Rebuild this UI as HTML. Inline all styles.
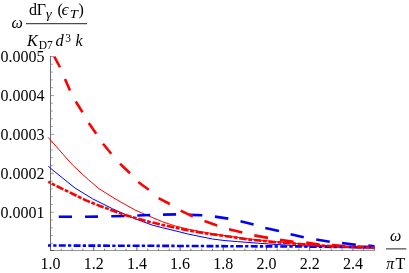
<!DOCTYPE html>
<html><head><meta charset="utf-8"><title>plot</title>
<style>
html,body{margin:0;padding:0;background:#fff;}
svg{display:block;font-family:"Liberation Serif",serif;will-change:transform;}
text{fill:#000;}
.i{font-style:italic;}
</style></head><body>

<svg width="409" height="273" viewBox="0 0 409 273">

<rect width="409" height="273" fill="#fff"/>

<g stroke="#6a6a6a" stroke-width="1" fill="none" shape-rendering="crispEdges">
<line x1="50.5" y1="56" x2="50.5" y2="251"/>
<line x1="51" y1="250.5" x2="375" y2="250.5" stroke="#959595"/>
</g>

<g stroke="#606060" stroke-width="0.6" fill="none">
<line x1="50" y1="250.5" x2="54" y2="250.5" stroke="#555" stroke-width="1"/>
<line x1="51" y1="243.40" x2="52.80" y2="243.40"/>
<line x1="51" y1="235.61" x2="52.80" y2="235.61"/>
<line x1="51" y1="227.83" x2="52.80" y2="227.83"/>
<line x1="51" y1="220.04" x2="52.80" y2="220.04"/>
<line x1="51" y1="212.25" x2="54.00" y2="212.25"/>
<line x1="51" y1="204.46" x2="52.80" y2="204.46"/>
<line x1="51" y1="196.67" x2="52.80" y2="196.67"/>
<line x1="51" y1="188.89" x2="52.80" y2="188.89"/>
<line x1="51" y1="181.10" x2="52.80" y2="181.10"/>
<line x1="51" y1="173.31" x2="54.00" y2="173.31"/>
<line x1="51" y1="165.52" x2="52.80" y2="165.52"/>
<line x1="51" y1="157.73" x2="52.80" y2="157.73"/>
<line x1="51" y1="149.95" x2="52.80" y2="149.95"/>
<line x1="51" y1="142.16" x2="52.80" y2="142.16"/>
<line x1="51" y1="134.37" x2="54.00" y2="134.37"/>
<line x1="51" y1="126.58" x2="52.80" y2="126.58"/>
<line x1="51" y1="118.79" x2="52.80" y2="118.79"/>
<line x1="51" y1="111.01" x2="52.80" y2="111.01"/>
<line x1="51" y1="103.22" x2="52.80" y2="103.22"/>
<line x1="51" y1="95.43" x2="54.00" y2="95.43"/>
<line x1="51" y1="87.64" x2="52.80" y2="87.64"/>
<line x1="51" y1="79.85" x2="52.80" y2="79.85"/>
<line x1="51" y1="72.07" x2="52.80" y2="72.07"/>
<line x1="51" y1="64.28" x2="52.80" y2="64.28"/>
<line x1="51" y1="56.49" x2="54.00" y2="56.49"/>
<line x1="61.30" y1="250.6" x2="61.30" y2="248.70" stroke="#5a5a5a" stroke-width="0.8"/>
<line x1="72.10" y1="250.6" x2="72.10" y2="248.70" stroke="#5a5a5a" stroke-width="0.8"/>
<line x1="82.90" y1="250.6" x2="82.90" y2="248.70" stroke="#5a5a5a" stroke-width="0.8"/>
<line x1="93.70" y1="250.6" x2="93.70" y2="247.00" stroke="#3a3a3a" stroke-width="0.8"/>
<line x1="104.50" y1="250.6" x2="104.50" y2="248.70" stroke="#5a5a5a" stroke-width="0.8"/>
<line x1="115.30" y1="250.6" x2="115.30" y2="248.70" stroke="#5a5a5a" stroke-width="0.8"/>
<line x1="126.10" y1="250.6" x2="126.10" y2="248.70" stroke="#5a5a5a" stroke-width="0.8"/>
<line x1="136.90" y1="250.6" x2="136.90" y2="247.00" stroke="#3a3a3a" stroke-width="0.8"/>
<line x1="147.70" y1="250.6" x2="147.70" y2="248.70" stroke="#5a5a5a" stroke-width="0.8"/>
<line x1="158.50" y1="250.6" x2="158.50" y2="248.70" stroke="#5a5a5a" stroke-width="0.8"/>
<line x1="169.30" y1="250.6" x2="169.30" y2="248.70" stroke="#5a5a5a" stroke-width="0.8"/>
<line x1="180.10" y1="250.6" x2="180.10" y2="247.00" stroke="#3a3a3a" stroke-width="0.8"/>
<line x1="190.90" y1="250.6" x2="190.90" y2="248.70" stroke="#5a5a5a" stroke-width="0.8"/>
<line x1="201.70" y1="250.6" x2="201.70" y2="248.70" stroke="#5a5a5a" stroke-width="0.8"/>
<line x1="212.50" y1="250.6" x2="212.50" y2="248.70" stroke="#5a5a5a" stroke-width="0.8"/>
<line x1="223.30" y1="250.6" x2="223.30" y2="247.00" stroke="#3a3a3a" stroke-width="0.8"/>
<line x1="234.10" y1="250.6" x2="234.10" y2="248.70" stroke="#5a5a5a" stroke-width="0.8"/>
<line x1="244.90" y1="250.6" x2="244.90" y2="248.70" stroke="#5a5a5a" stroke-width="0.8"/>
<line x1="255.70" y1="250.6" x2="255.70" y2="248.70" stroke="#5a5a5a" stroke-width="0.8"/>
<line x1="266.50" y1="250.6" x2="266.50" y2="247.00" stroke="#3a3a3a" stroke-width="0.8"/>
<line x1="277.30" y1="250.6" x2="277.30" y2="248.70" stroke="#5a5a5a" stroke-width="0.8"/>
<line x1="288.10" y1="250.6" x2="288.10" y2="248.70" stroke="#5a5a5a" stroke-width="0.8"/>
<line x1="298.90" y1="250.6" x2="298.90" y2="248.70" stroke="#5a5a5a" stroke-width="0.8"/>
<line x1="309.70" y1="250.6" x2="309.70" y2="247.00" stroke="#3a3a3a" stroke-width="0.8"/>
<line x1="320.50" y1="250.6" x2="320.50" y2="248.70" stroke="#5a5a5a" stroke-width="0.8"/>
<line x1="331.30" y1="250.6" x2="331.30" y2="248.70" stroke="#5a5a5a" stroke-width="0.8"/>
<line x1="342.10" y1="250.6" x2="342.10" y2="248.70" stroke="#5a5a5a" stroke-width="0.8"/>
<line x1="352.90" y1="250.6" x2="352.90" y2="247.00" stroke="#3a3a3a" stroke-width="0.8"/>
<line x1="363.70" y1="250.6" x2="363.70" y2="248.70" stroke="#5a5a5a" stroke-width="0.8"/>
<line x1="374.50" y1="250.6" x2="374.50" y2="248.70" stroke="#5a5a5a" stroke-width="0.8"/>
</g>

<g fill="none" stroke-linejoin="round">
<polyline points="48.30,137.50 50.50,140.00 72.50,165.00 88.75,180.00 98.75,188.50 115.00,198.75 135.00,210.00 152.00,217.40 162.50,221.75 175.00,225.90 187.50,229.00 200.00,231.50 225.00,235.60 250.00,239.00 275.00,241.70 300.00,243.80 325.00,245.50 350.00,246.70 374.50,247.40" stroke="#ff0000" stroke-width="1"/>
<polyline points="48.30,166.00 50.50,168.25 65.00,180.00 75.00,188.00 92.50,198.75 112.50,208.75 135.00,218.75 152.00,225.00 162.50,227.75 175.00,230.75 187.50,233.90 200.00,236.50 212.50,239.00 225.00,240.60 237.50,241.60 250.00,242.60 275.00,244.40 300.00,245.80 325.00,246.80 350.00,247.50 374.50,248.00" stroke="#0000ff" stroke-width="1"/>
<g stroke="#0000ff" stroke-width="2.6">
<line x1="58.75" y1="216.75" x2="72" y2="216.75"/>
<line x1="85" y1="216.75" x2="98" y2="216.6"/>
<line x1="111.25" y1="216.25" x2="124.5" y2="216"/>
<line x1="137.3" y1="215.5" x2="150.2" y2="215"/>
<line x1="163" y1="214.6" x2="176.1" y2="214.35"/>
<line x1="189" y1="214.9" x2="202.3" y2="215.3"/>
<line x1="214.9" y1="216.6" x2="228.3" y2="218.6"/>
<line x1="240.5" y1="221.2" x2="253.6" y2="224.5"/>
<line x1="265.3" y1="228" x2="279" y2="231.1"/>
<line x1="290.6" y1="234.25" x2="303.75" y2="237.25"/>
<line x1="316.25" y1="239.5" x2="329.75" y2="241.75"/>
<line x1="342.1" y1="243" x2="355.8" y2="244.85"/>
<line x1="368.2" y1="245.6" x2="374.4" y2="246.3"/>
</g>
<g stroke="#ff0000" stroke-width="2.6">
<line x1="54.3" y1="56.6" x2="60" y2="67.25"/>
<line x1="65" y1="79" x2="70" y2="90.5"/>
<line x1="75.75" y1="101.5" x2="82.5" y2="112.25"/>
<line x1="88.75" y1="123" x2="96.25" y2="133.75"/>
<line x1="103" y1="143.75" x2="111.25" y2="153.75"/>
<line x1="120" y1="163.75" x2="130" y2="173.25"/>
<line x1="138.25" y1="182" x2="148.75" y2="189.75"/>
<line x1="158.6" y1="198.1" x2="169.8" y2="204"/>
<line x1="180.6" y1="210.6" x2="192.8" y2="216.4"/>
<line x1="204.5" y1="221" x2="217.1" y2="225.5"/>
<line x1="229" y1="229.3" x2="242.3" y2="232.6"/>
<line x1="254.3" y1="235.4" x2="268" y2="237.9"/>
<line x1="280" y1="239.9" x2="293.5" y2="241.75"/>
<line x1="306.25" y1="242.6" x2="319.4" y2="244.5"/>
<line x1="331.9" y1="245.1" x2="345" y2="246"/>
<line x1="357.5" y1="246.5" x2="370.5" y2="246.9"/>
</g>
<polyline points="48.00,245.50 150.00,245.80 250.00,246.30 310.00,246.60 340.00,247.00 374.50,247.30" stroke="#0000ff" stroke-width="2.6" stroke-dasharray="6.9 2.2 3.3 2.36" stroke-dashoffset="3.9"/>
<polyline points="48.30,181.70 50.50,183.00 75.00,195.00 86.00,200.40 100.00,206.00 125.00,215.00 150.00,222.00 162.50,224.90 175.00,227.60 187.50,230.25 200.00,232.50 225.00,236.00 250.00,239.70 275.00,242.10 300.00,244.00 325.00,245.70 350.00,247.00 374.50,247.70" stroke="#ff0000" stroke-width="2.6" stroke-dasharray="7.6 1.6 3.8 1.7" stroke-dashoffset="5.4"/>
</g>

<g font-size="16">
<text x="44.6" y="217.65" text-anchor="end">0.0001</text>
<text x="44.6" y="178.71" text-anchor="end">0.0002</text>
<text x="44.6" y="139.77" text-anchor="end">0.0003</text>
<text x="44.6" y="100.83" text-anchor="end">0.0004</text>
<text x="44.6" y="61.89" text-anchor="end">0.0005</text>
<text x="50.50" y="268.6" text-anchor="middle">1.0</text>
<text x="93.70" y="268.6" text-anchor="middle">1.2</text>
<text x="136.90" y="268.6" text-anchor="middle">1.4</text>
<text x="180.10" y="268.6" text-anchor="middle">1.6</text>
<text x="223.30" y="268.6" text-anchor="middle">1.8</text>
<text x="266.50" y="268.6" text-anchor="middle">2.0</text>
<text x="309.70" y="268.6" text-anchor="middle">2.2</text>
<text x="352.90" y="268.6" text-anchor="middle">2.4</text>
</g>

<g>
<text class="i" font-size="16" transform="translate(11.4,28.2) scale(1.0,1)">ω</text>
<text font-size="16" transform="translate(29,14.7) scale(1.0,1)">d</text>
<text font-size="16" transform="translate(36.8,14.7) scale(1.0,1)">Γ</text>
<text class="i" font-size="11.5" transform="translate(46.0,17.7) scale(1.25,1)">γ</text>
<text font-size="16" transform="translate(57.4,14.7) scale(1.0,1)">(</text>
<text class="i" font-size="16" transform="translate(61.6,14.7) scale(1.12,1)">ϵ</text>
<text class="i" font-size="11.5" transform="translate(69.7,17.6) scale(1.28,1)">T</text>
<text font-size="16" transform="translate(78.5,14.7) scale(1.0,1)">)</text>
<text class="i" font-size="16" transform="translate(27,45.8) scale(1.0,1)">K</text>
<text font-size="11.5" transform="translate(38.8,48.6) scale(1.0,1)">D7</text>
<text class="i" font-size="16" transform="translate(55.6,45.8) scale(1.03,1)">d</text>
<text font-size="11.5" transform="translate(65.2,41.6) scale(1.0,1)">3</text>
<text class="i" font-size="16" transform="translate(75.6,45.8) scale(1.0,1)">k</text>
</g>

<line x1="26" y1="23.7" x2="87" y2="23.7" stroke="#222" stroke-width="1"/>

<g font-size="16">
<text class="i" x="390" y="240.6">ω</text>
<text class="i" x="386.2" y="268.6">π</text>
<text x="395.6" y="268.6">T</text>
</g>

<line x1="386" y1="248.9" x2="406.3" y2="248.9" stroke="#222" stroke-width="1"/>

</svg>
</body></html>
